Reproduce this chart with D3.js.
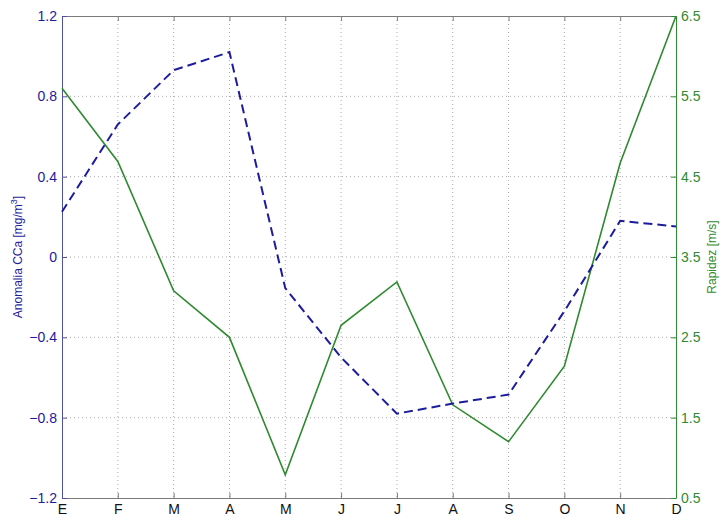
<!DOCTYPE html>
<html lang="es">
<head>
<meta charset="utf-8">
<title>Anomalia CCa y Rapidez</title>
<script src="https://cdn.jsdelivr.net/npm/d3@7"></script>
<style>
  body { margin: 0; background: #fff; }
  .tick text { font-family: "Liberation Sans", Arial, sans-serif; font-size: 14px; }
</style>
</head>
<body>
<script>
// data
var months = ["E", "F", "M", "A", "M", "J", "J", "A", "S", "O", "N", "D"];
var anomalia = [0.225, 0.66, 0.93, 1.02, -0.155, -0.50, -0.78, -0.73, -0.685, -0.27, 0.18, 0.152];
var rapidez = [5.6, 4.69, 3.08, 2.5, 0.79, 2.65, 3.19, 1.66, 1.2, 2.14, 4.67, 6.5];
var leftTicks = [-1.2, -0.8, -0.4, 0, 0.4, 0.8, 1.2];
var rightTicks = [0.5, 1.5, 2.5, 3.5, 4.5, 5.5, 6.5];

var width = 722, height = 524;
var margin = { top: 16, right: 46, bottom: 26, left: 62 };
var w = width - margin.left - margin.right;
var h = height - margin.top - margin.bottom;

var blue = "#1c1c9c", green = "#2f8a2f", axisGray = "#7a7a7a";

var svg = d3.select("body").append("svg")
    .attr("width", width)
    .attr("height", height);

var g = svg.append("g")
    .attr("transform", "translate(" + margin.left + "," + margin.top + ")");

var idx = d3.range(months.length);
var x = d3.scaleLinear().domain([0, months.length - 1]).range([0, w]);
var yL = d3.scaleLinear().domain([-1.2, 1.2]).range([h, 0]);
var yR = d3.scaleLinear().domain([0.5, 6.5]).range([h, 0]);

// grid
g.append("g").selectAll("line").data(idx.slice(1, -1)).enter().append("line")
    .attr("x1", function(d) { return x(d); }).attr("x2", function(d) { return x(d); })
    .attr("y1", 0).attr("y2", h)
    .attr("stroke", "#aaa").attr("stroke-width", 1).attr("stroke-dasharray", "1,3");
g.append("g").selectAll("line").data(leftTicks.slice(1, -1)).enter().append("line")
    .attr("x1", 0).attr("x2", w)
    .attr("y1", function(d) { return yL(d); }).attr("y2", function(d) { return yL(d); })
    .attr("stroke", "#aaa").attr("stroke-width", 1).attr("stroke-dasharray", "1,3");

// axes
var xAxis = d3.axisBottom(x).tickValues(idx)
    .tickFormat(function(i) { return months[i]; })
    .tickSizeInner(-5).tickSizeOuter(0).tickPadding(6);
var gx = g.append("g").attr("transform", "translate(0," + h + ")").call(xAxis);
gx.select(".domain").attr("stroke", axisGray);
gx.selectAll(".tick line").attr("stroke", axisGray);
gx.selectAll(".tick text").attr("fill", "#111");

var xTop = d3.axisTop(x).tickValues(idx).tickFormat("").tickSizeInner(-5).tickSizeOuter(0);
var gt = g.append("g").call(xTop);
gt.select(".domain").attr("stroke", axisGray);
gt.selectAll(".tick line").attr("stroke", axisGray);

var gl = g.append("g").call(d3.axisLeft(yL).tickValues(leftTicks)
    .tickFormat(function(d) { return d === 0 ? "0" : d3.format(".1f")(d); })
    .tickSizeInner(-5).tickSizeOuter(0).tickPadding(5));
gl.select(".domain").attr("stroke", "#5050a0");
gl.selectAll(".tick line").attr("stroke", "#5050a0");
gl.selectAll(".tick text").attr("fill", blue);

var gr = g.append("g").attr("transform", "translate(" + w + ",0)")
    .call(d3.axisRight(yR).tickValues(rightTicks).tickFormat(d3.format(".1f"))
    .tickSizeInner(-5).tickSizeOuter(0).tickPadding(5));
gr.select(".domain").attr("stroke", green);
gr.selectAll(".tick line").attr("stroke", green);
gr.selectAll(".tick text").attr("fill", green);

// lines
var lineL = d3.line().x(function(d, i) { return x(i); }).y(function(d) { return yL(d); });
var lineR = d3.line().x(function(d, i) { return x(i); }).y(function(d) { return yR(d); });

g.append("path").datum(rapidez)
    .attr("d", lineR).attr("fill", "none")
    .attr("stroke", green).attr("stroke-width", 1.6);

g.append("path").datum(anomalia)
    .attr("d", lineL).attr("fill", "none")
    .attr("stroke", blue).attr("stroke-width", 2)
    .attr("stroke-dasharray", "9,5");

// axis titles
var lt = svg.append("text")
    .attr("transform", "translate(22," + (margin.top + h / 2) + ") rotate(-90)")
    .attr("text-anchor", "middle")
    .attr("font-family", "Liberation Sans, Arial, sans-serif")
    .attr("font-size", "12px")
    .attr("fill", blue);
lt.append("tspan").text("Anomalia CCa [mg/m");
lt.append("tspan").attr("dy", -5).attr("font-size", "9px").text("3");
lt.append("tspan").attr("dy", 5).text("]");

svg.append("text")
    .attr("transform", "translate(716," + (margin.top + h / 2) + ") rotate(-90)")
    .attr("text-anchor", "middle")
    .attr("font-family", "Liberation Sans, Arial, sans-serif")
    .attr("font-size", "12px")
    .attr("fill", green)
    .text("Rapidez [m/s]");
</script>
</body>
</html>
